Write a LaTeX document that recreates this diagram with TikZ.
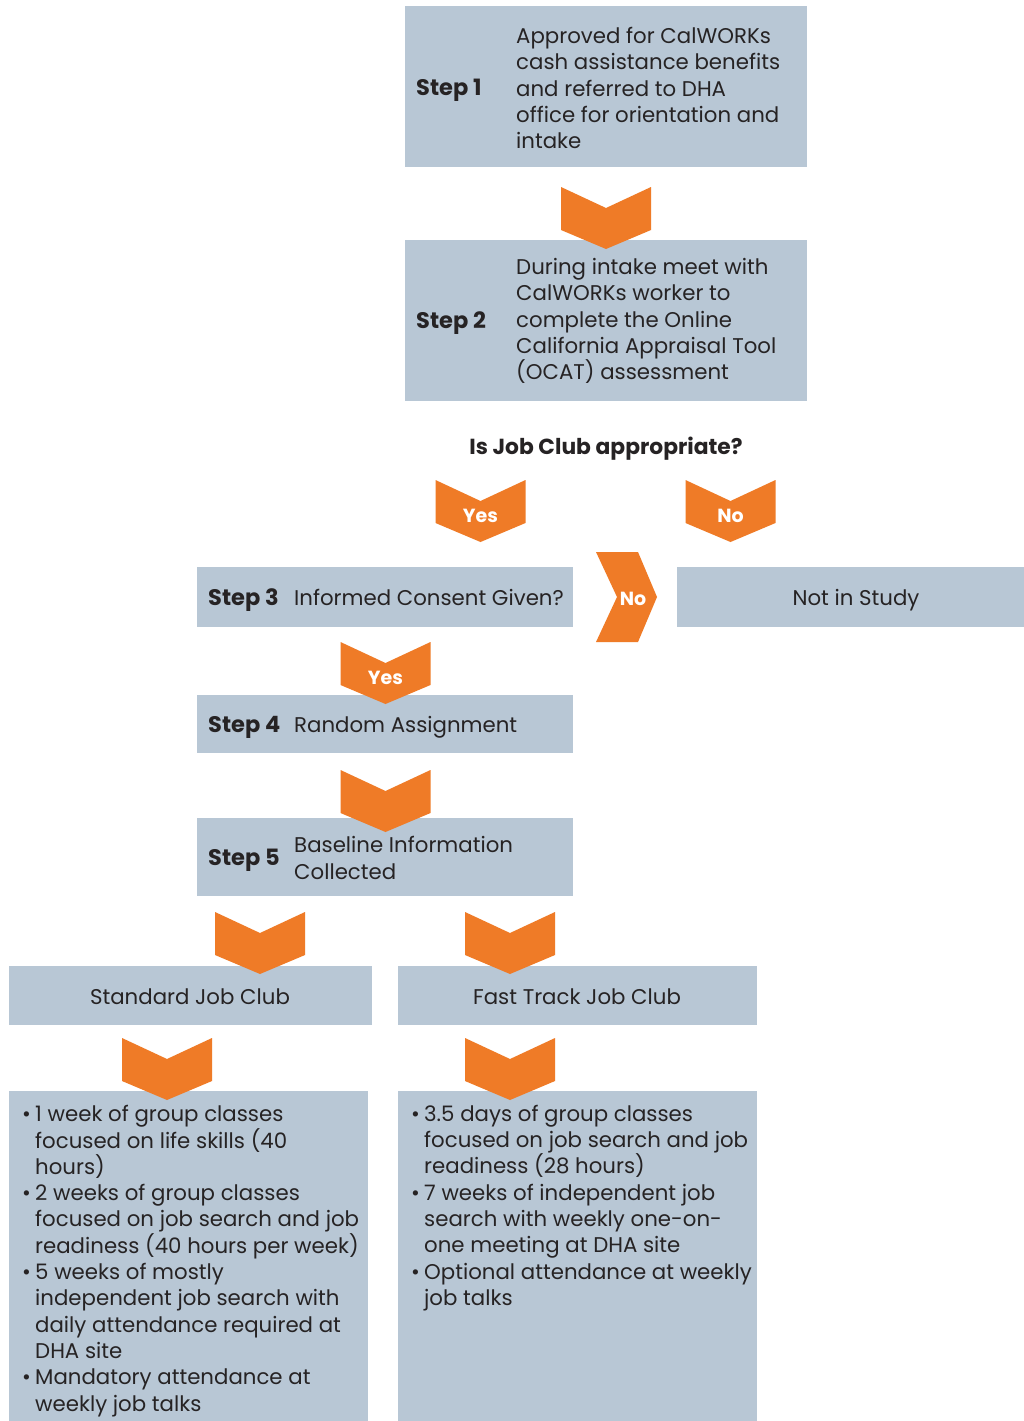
\documentclass[tikz,border=0pt]{standalone}
\usepackage{fontspec}
\setmainfont{Poppins}
\definecolor{boxblue}{HTML}{B8C7D5}
\definecolor{chevorange}{HTML}{EF7B27}
\definecolor{inktext}{HTML}{262324}
\newcommand\blt{\makebox[13pt][l]{\textbullet}}
\newcommand\ind{\hspace*{13pt}}
\begin{document}
\begin{tikzpicture}[x=1pt,y=-1pt,
    every node/.style={font=\fontsize{21.3}{26.3}\selectfont,text=inktext,inner sep=0pt},
    oneline/.style={text height=17pt,text depth=2pt},
    box/.style={fill=boxblue,anchor=north west},
    steplbl/.style={oneline,font=\fontsize{22.5}{26.3}\selectfont\bfseries,anchor=west},
    body/.style={align=left,anchor=west},
    chevtext/.style={oneline,font=\fontsize{19}{20}\selectfont\bfseries,text=white},
    pics/chevdown/.style={code={
        \fill[chevorange] (-45,0) -- (0,21) -- (45,0) -- (45,43) -- (0,62) -- (-45,43) -- cycle;
        \node[chevtext] at (0,35) {#1};}},
    pics/chevdown/.default={},
    pics/chevright/.style={code={
        \fill[chevorange] (0,0) -- (42,0) -- (61,45) -- (42,90) -- (0,90) -- (21,45) -- cycle;
        \node[chevtext] at (37,46) {#1};}}]
    \useasboundingbox[fill=white] (0,0) rectangle (1024,1421);
    % step boxes
    \node[box,minimum width=402,minimum height=161] (s1) at (405,6) {};
    \node[box,minimum width=402,minimum height=161] (s2) at (405,240) {};
    \node[box,minimum width=376,minimum height=60] (s3) at (197,567) {};
    \node[box,minimum width=347,minimum height=60] (out) at (677,567) {};
    \node[box,minimum width=376,minimum height=58] (s4) at (197,695) {};
    \node[box,minimum width=376,minimum height=78] (s5) at (197,818) {};
    \node[box,minimum width=363,minimum height=59] (std) at (9,966) {};
    \node[box,minimum width=359,minimum height=59] (fast) at (398,966) {};
    \node[box,minimum width=359,minimum height=330] (stdlist) at (9,1091) {};
    \node[box,minimum width=359,minimum height=330] (fastlist) at (398,1091) {};
    % arrows
    \pic at (606,187) {chevdown};
    \pic at (480.5,480) {chevdown=Yes};
    \pic at (730.5,480) {chevdown=No};
    \pic at (596,552) {chevright=No};
    \pic at (385.5,642) {chevdown=Yes};
    \pic at (385.5,770) {chevdown};
    \pic at (260,912) {chevdown};
    \pic at (510,912) {chevdown};
    \pic at (167,1038) {chevdown};
    \pic at (510,1038) {chevdown};
    % texts
    \node[steplbl] (s1l) at (416,88) {Step 1};
    \node[body] (s1t) at (516,88) {Approved for CalWORKs\\cash assistance benefits\\and referred to DHA\\office for orientation and\\intake};
    \node[steplbl] (s2l) at (416,321) {Step 2};
    \node[body] (s2t) at (516,321) {During intake meet with\\CalWORKs worker to\\complete the Online\\California Appraisal Tool\\(OCAT) assessment};
    \node[oneline,font=\fontsize{21.8}{26.3}\selectfont\bfseries] (q) at (606,447) {Is Job Club appropriate?};
    \node[steplbl] (s3l) at (208,598) {Step 3};
    \node[body,oneline] (s3t) at (294,598) {Informed Consent Given?};
    \node[oneline] (outt) at (856,598) {Not in Study};
    \node[steplbl] (s4l) at (208,725) {Step 4};
    \node[body,oneline] (s4t) at (294,725) {Random Assignment};
    \node[steplbl] (s5l) at (208,858) {Step 5};
    \node[body] (s5t) at (294,858) {Baseline Information\\Collected};
    \node[oneline] (stdt) at (190,997) {Standard Job Club};
    \node[oneline] (fastt) at (577,997) {Fast Track Job Club};
    \node[body] (stdl) at (22,1261) {\blt 1 week of group classes\\\ind focused on life skills (40\\\ind hours)\\\blt 2 weeks of group classes\\\ind focused on job search and job\\\ind readiness (40 hours per week)\\\blt 5 weeks of mostly\\\ind independent job search with\\\ind daily attendance required at\\\ind DHA site\\\blt Mandatory attendance at\\\ind weekly job talks};
    \node[body] (fastl) at (411,1208) {\blt 3.5 days of group classes\\\ind focused on job search and job\\\ind readiness (28 hours)\\\blt 7 weeks of independent job\\\ind search with weekly one-on-\\\ind one meeting at DHA site\\\blt Optional attendance at weekly\\\ind job talks};
\end{tikzpicture}
\end{document}
